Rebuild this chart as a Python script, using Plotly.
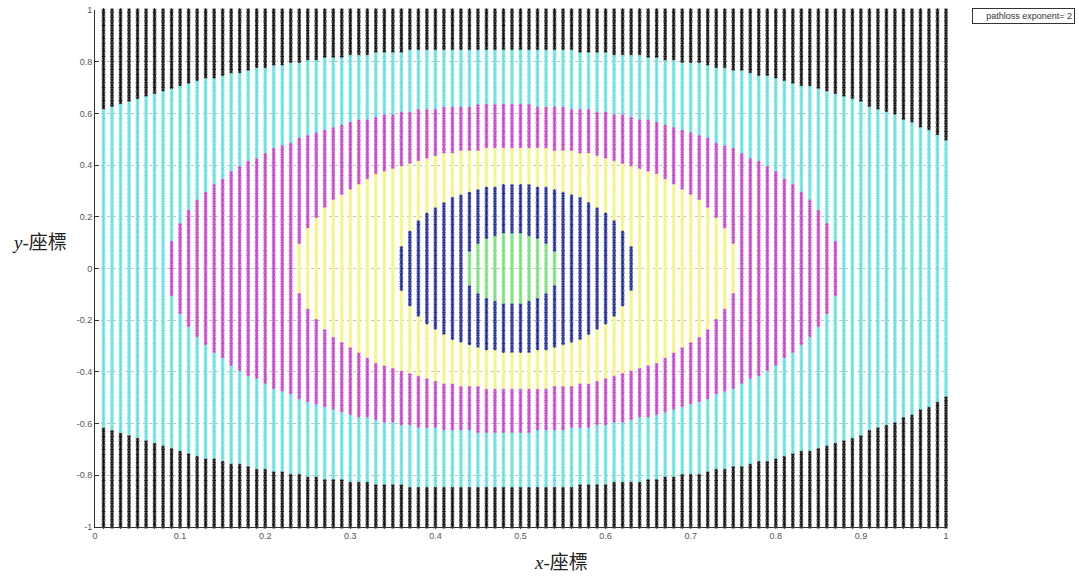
import numpy as np
import plotly.graph_objects as go

# Receiver grid: columns every 0.01 in x, rows every 0.01 in y
x_grid = np.round(np.arange(1, 101) * 0.01, 2)
y_grid = np.round(np.arange(-100, 101) * 0.01, 2)

# Coverage rings (innermost first): centre x, half-width in x, half-height in y
ring_names = ["green", "blue", "yellow", "magenta", "cyan"]
ring_cx = [0.490, 0.495, 0.495, 0.480, 0.467]
ring_ax = [0.056, 0.140, 0.260, 0.395, 0.659]
ring_by = [0.135, 0.325, 0.467, 0.632, 0.850]

level_colors = {
    "black": "#151515",
    "cyan": "#62e2e2",
    "magenta": "#cc44cc",
    "yellow": "#f5f57e",
    "blue": "#22309a",
    "green": "#78e278",
}

legend_text = "pathloss exponent= 2"
x_ticks = [0, 0.1, 0.2, 0.3, 0.4, 0.5, 0.6, 0.7, 0.8, 0.9, 1]
x_tick_text = ["0", "0.1", "0.2", "0.3", "0.4", "0.5", "0.6", "0.7", "0.8", "0.9", "1"]
y_ticks = [-1, -0.8, -0.6, -0.4, -0.2, 0, 0.2, 0.4, 0.6, 0.8, 1]
y_tick_text = ["-1", "-0.8", "-0.6", "-0.4", "-0.2", "0", "0.2", "0.4", "0.6", "0.8", "1"]

X, Y = np.meshgrid(x_grid, y_grid)
X = X.ravel()
Y = Y.ravel()
label = np.full(X.shape, "black", dtype=object)
# assign outer rings first so inner ones overwrite them
for name, cx, ax, by in reversed(list(zip(ring_names, ring_cx, ring_ax, ring_by))):
    inside = ((X - cx) / ax) ** 2 + (Y / by) ** 2 <= 1.0
    label[inside] = name

fig = go.Figure()
for name in ["black", "cyan", "magenta", "yellow", "blue", "green"]:
    m = label == name
    fig.add_trace(go.Scatter(
        x=X[m], y=Y[m], mode="markers", name=name, showlegend=False,
        marker=dict(symbol="asterisk-open", size=3, color=level_colors[name],
                    line=dict(color=level_colors[name], width=1)),
        hoverinfo="skip", cliponaxis=False,
    ))

axis_common = dict(
    showgrid=True, gridcolor="#c4c4c4", griddash="dot", gridwidth=1,
    showline=True, linecolor="#333333", linewidth=1,
    ticks="inside", ticklen=4, tickcolor="#333333",
    tickfont=dict(family="Liberation Sans, Arial", size=9, color="#555555"),
    zeroline=False, mirror=False, automargin=False,
)

fig.update_layout(
    width=1079, height=578,
    margin=dict(l=95, r=133, t=10, b=51),
    paper_bgcolor="white", plot_bgcolor="white",
    xaxis=dict(range=[0, 1], tickvals=x_ticks, ticktext=x_tick_text, **axis_common),
    yaxis=dict(range=[-1, 1], tickvals=y_ticks, ticktext=y_tick_text, **axis_common),
    annotations=[
        dict(text="<i>x</i>-座標", xref="paper", yref="paper", x=0.5, y=0,
             xshift=40, yshift=-35, showarrow=False, yanchor="middle",
             font=dict(family="Liberation Serif, Noto Sans CJK TC", size=19, color="#222222")),
        dict(text="<i>y</i>-座標", xref="paper", yref="paper", x=0, y=0.5,
             xshift=-56, yshift=26, showarrow=False, xanchor="center",
             font=dict(family="Liberation Serif, Noto Sans CJK TC", size=19, color="#222222")),
        dict(text=legend_text, xref="paper", yref="paper", x=1, y=1,
             xshift=26, yshift=2, xanchor="left", yanchor="top", showarrow=False,
             width=97, align="right", bordercolor="#333333", borderwidth=1, borderpad=2,
             bgcolor="white",
             font=dict(family="Liberation Sans, Arial", size=9, color="#333333")),
    ],
)

fig.write_html("out.html")
